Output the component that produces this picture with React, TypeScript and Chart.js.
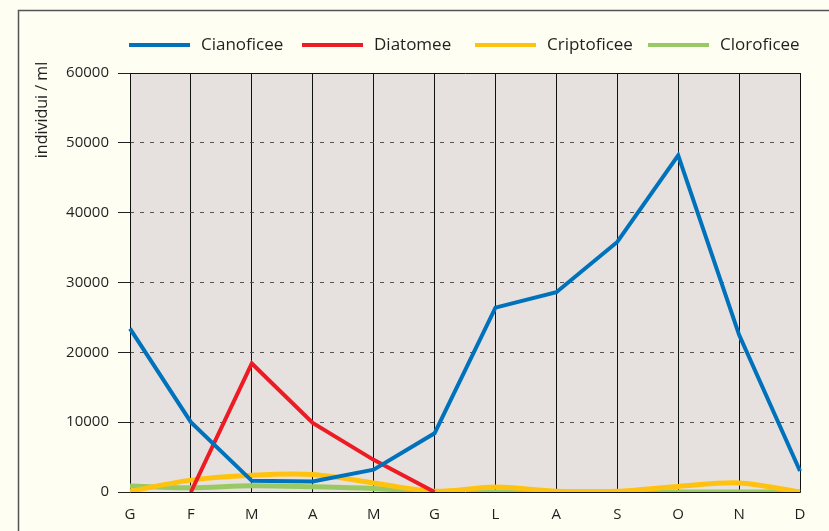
import React, { useEffect, useRef } from 'react';
import { Chart, registerables } from 'chart.js';

Chart.register(...registerables);

const months = ['G', 'F', 'M', 'A', 'M', 'G', 'L', 'A', 'S', 'O', 'N', 'D'];
const cianoficee = [23400, 10000, 1600, 1500, 3200, 8400, 26400, 28600, 35800, 48200, 22500, 3000];
const diatomee = [null, 0, 18400, 9900, 4600, 0, null, null, null, null, null, null];
const criptoficee = [100, 1700, 2400, 2500, 1300, 100, 700, 100, 100, 800, 1300, 0];
const cloroficee = [850, 600, 900, 750, 500, 0, 0, 0, 0, 0, 0, 0];
const seriesNames = ['Cianoficee', 'Diatomee', 'Criptoficee', 'Cloroficee'];
const seriesColors = ['#0072bc', '#ed1c24', '#ffc20e', '#98c965'];
const yMin = 0;
const yMax = 60000;
const yStep = 10000;
const yTitle = 'individui / ml';

const TEXT = '#231f20';
const FONT = '"Open Sans", "Liberation Sans", sans-serif';

const decor = {
  id: 'decor',
  beforeDraw(chart: any) {
    const { ctx, chartArea: a, width, height } = chart;
    ctx.save();
    ctx.fillStyle = '#fefef3';
    ctx.fillRect(0, 0, width, height);
    ctx.fillStyle = '#e6e1df';
    ctx.fillRect(a.left, a.top, a.right - a.left, a.bottom - a.top);
    ctx.strokeStyle = '#555';
    ctx.lineWidth = 1.5;
    ctx.beginPath();
    ctx.moveTo(18.5, height);
    ctx.lineTo(18.5, 10.5);
    ctx.lineTo(width, 10.5);
    ctx.stroke();
    // axis title
    ctx.translate(42, 110);
    ctx.rotate(-Math.PI / 2);
    ctx.font = '16px ' + FONT;
    ctx.fillStyle = TEXT;
    ctx.textAlign = 'center';
    ctx.textBaseline = 'middle';
    ctx.fillText(yTitle, 0, 0);
    ctx.restore();
  },
  beforeDatasetsDraw(chart: any) {
    const { ctx, chartArea: a } = chart;
    ctx.save();
    ctx.strokeStyle = '#111';
    ctx.lineWidth = 1;
    ctx.setLineDash([]);
    ctx.beginPath();
    const l = Math.round(a.left) + 0.5, r = Math.round(a.right) + 0.5;
    const t = Math.round(a.top) + 0.5, b = Math.round(a.bottom) + 0.5;
    ctx.moveTo(l, t);
    ctx.lineTo(r, t);
    ctx.lineTo(r, b);
    ctx.lineTo(l, b);
    ctx.closePath();
    ctx.stroke();
    ctx.restore();
  },
  afterDraw(chart: any) {
    const { ctx } = chart;
    ctx.save();
    const starts = [129, 302, 475, 648];
    chart.data.datasets.forEach((ds: any, i: number) => {
      const x = starts[i];
      const y = 45;
      ctx.strokeStyle = ds.borderColor;
      ctx.lineWidth = 4;
      ctx.beginPath();
      ctx.moveTo(x, y);
      ctx.lineTo(x + 61, y);
      ctx.stroke();
      ctx.font = '17px ' + FONT;
      ctx.fillStyle = TEXT;
      ctx.textAlign = 'left';
      ctx.textBaseline = 'middle';
      ctx.fillText(ds.label, x + 72, y);
    });
    ctx.restore();
  },
};

export default function App() {
  const ref = useRef<HTMLCanvasElement>(null);
  useEffect(() => {
    document.body.style.margin = '0';
    const seriesData = [cianoficee, diatomee, criptoficee, cloroficee];
    const chart = new Chart(ref.current as HTMLCanvasElement, {
      type: 'line',
      data: {
        labels: months,
        datasets: seriesData.map((d, i) => ({
          label: seriesNames[i],
          data: d as any,
          borderColor: seriesColors[i],
          backgroundColor: seriesColors[i],
          borderWidth: i >= 2 ? 5 : 4,
          pointRadius: 0,
          pointHoverRadius: 0,
          tension: i >= 2 ? 0.3 : 0,
          spanGaps: false,
          fill: false,
        })),
      },
      options: {
        animation: false,
        responsive: false,
        devicePixelRatio: 1,
        layout: { padding: { top: 73, right: 29, left: 0, bottom: 0 } },
        plugins: {
          legend: { display: false },
          tooltip: { enabled: false },
          title: { display: false },
        },
        scales: {
          x: {
            type: 'category',
            offset: false,
            grid: { color: '#111', lineWidth: 1, drawTicks: false },
            border: { display: false },
            ticks: { color: TEXT, font: { family: FONT, size: 15 }, padding: 14, maxRotation: 0, autoSkip: false },
            afterFit: (s: any) => { s.height = 39; },
          },
          y: {
            min: yMin,
            max: yMax,
            grid: {
              color: (c: any) => (c.tick && (c.tick.value === yMin || c.tick.value === yMax) ? 'rgba(0,0,0,0)' : '#555'),
              lineWidth: 1,
              tickLength: 12,
              tickColor: '#222',
              tickBorderDash: [],
            },
            border: { display: false, dash: [4, 6] },
            ticks: {
              stepSize: yStep,
              color: TEXT,
              font: { family: FONT, size: 15 },
              padding: 9,
              callback: (v: any) => String(v),
            },
            afterFit: (s: any) => { s.width = 130; },
          },
        },
      },
      plugins: [decor],
    } as any);
    return () => chart.destroy();
  }, []);
  return <canvas ref={ref} width={829} height={531} style={{ display: 'block' }} />;
}
